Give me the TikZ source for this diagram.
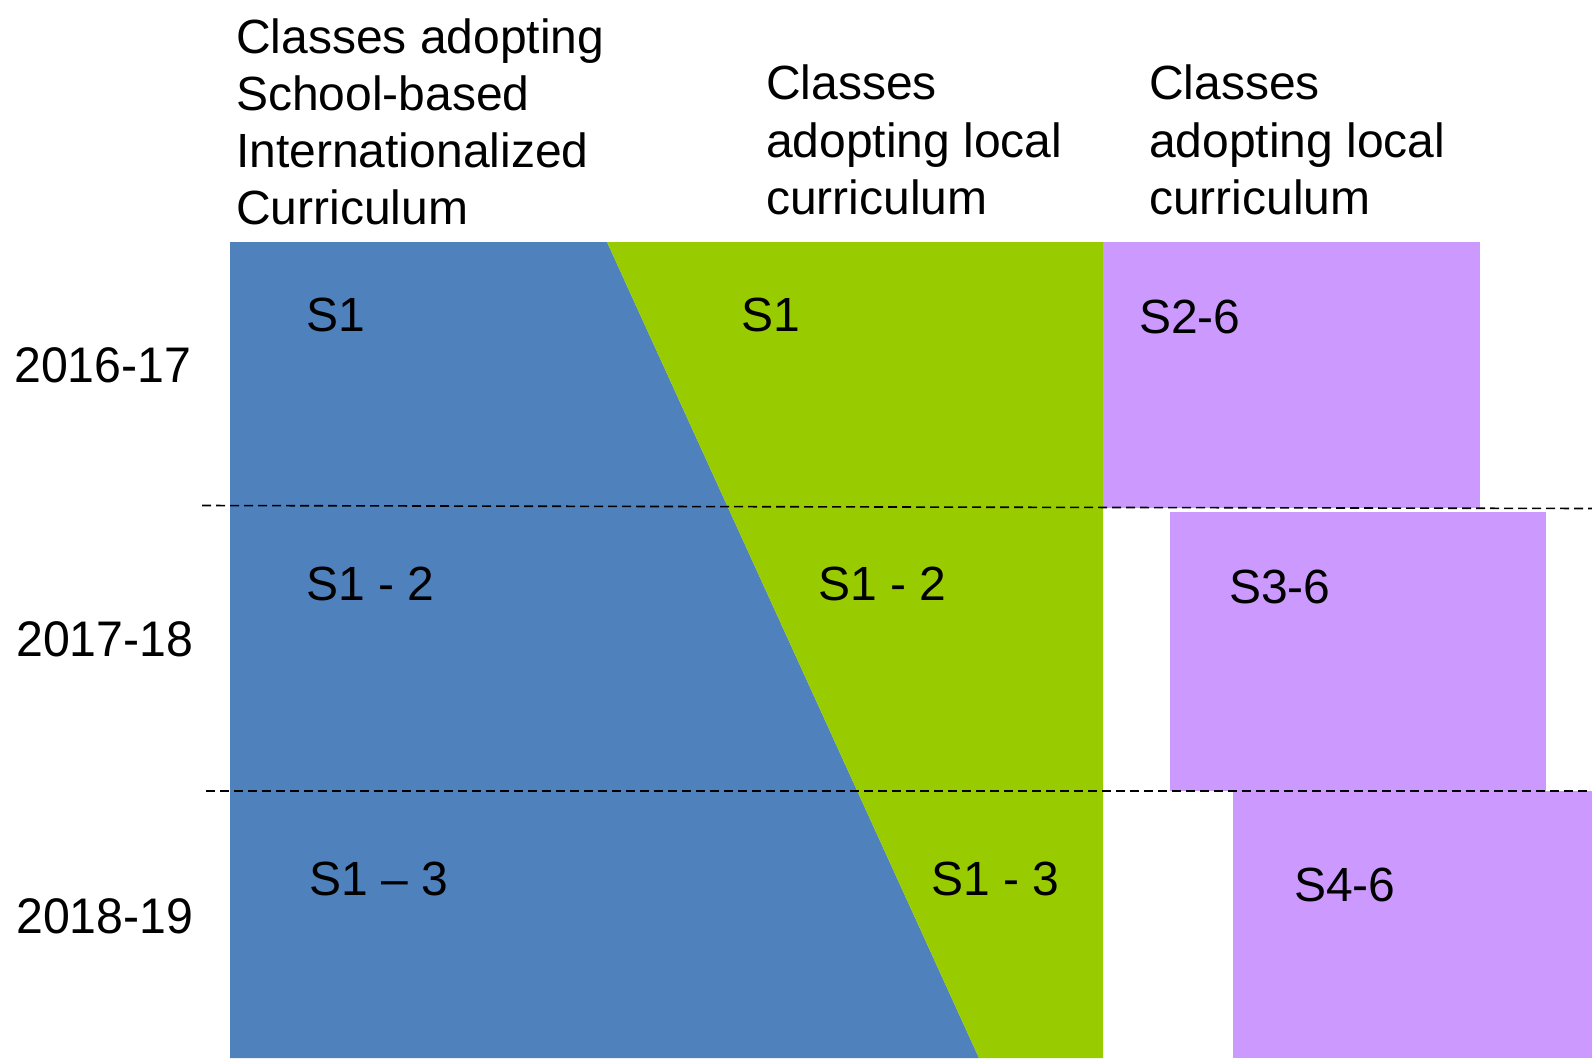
\documentclass[tikz,border=0pt]{standalone}
\usepackage{fontspec}
\setmainfont{Liberation Sans}
\newfontfamily\yearfont{Liberation Sans}[FakeStretch=0.965]
\definecolor{blueC}{HTML}{4F81BD}
\definecolor{greenC}{HTML}{99CC00}
\definecolor{purpC}{HTML}{CC99FF}
\begin{document}
\begin{tikzpicture}[x=1pt,y=-1pt,
  hdr/.style={anchor=base west, inner sep=0pt, font=\fontsize{48}{57}\selectfont},
  yr/.style={anchor=base west, inner sep=0pt, font=\yearfont\fontsize{50}{60}\selectfont},
  cell/.style={anchor=base west, inner sep=0pt, font=\fontsize{48}{57}\selectfont},
  sepline/.style={dash pattern=on 9pt off 5pt, line width=1.6pt}]
\useasboundingbox (0,0) rectangle (1592,1058);
% areas
\fill[blueC] (230,242) -- (607,242) -- (979,1058) -- (230,1058) -- cycle;
\fill[greenC] (607,242) -- (1103,242) -- (1103,1058) -- (979,1058) -- cycle;
\fill[purpC] (1103,242) rectangle (1480,508);
\fill[purpC] (1170,512) rectangle (1546,791);
\fill[purpC] (1233,791) rectangle (1592,1058);
% dashed separators
\coordinate (d1a) at (202,505.5);
\coordinate (d1b) at (1592,508.5);
\coordinate (d2a) at (206,791);
\coordinate (d2b) at (1592,791);
\draw[sepline] (d1a) -- (d1b);
\draw[sepline] (d2a) -- (d2b);
% headers
\node[hdr] (h1a) at (236,53) {Classes adopting};
\node[hdr] (h1b) at (236,110) {School-based};
\node[hdr] (h1c) at (236,167) {Internationalized};
\node[hdr] (h1d) at (236,224) {Curriculum};
\node[hdr] (h2a) at (766,99.5) {Classes};
\node[hdr] (h2b) at (766,157) {adopting local};
\node[hdr] (h2c) at (766,214) {curriculum};
\node[hdr] (h3a) at (1149,99.5) {Classes};
\node[hdr] (h3b) at (1149,157) {adopting local};
\node[hdr] (h3c) at (1149,214) {curriculum};
% years
\node[yr] (y1) at (14,382.5) {2016-17};
\node[yr] (y2) at (16,656.5) {2017-18};
\node[yr] (y3) at (16,933.5) {2018-19};
% cells
\node[cell] (b1) at (306,331) {S1};
\node[cell] (g1) at (741,331) {S1};
\node[cell] (p1) at (1139,333) {S2-6};
\node[cell] (b2) at (306,600) {S1 - 2};
\node[cell] (g2) at (818,600) {S1 - 2};
\node[cell] (p2) at (1229,603) {S3-6};
\node[cell] (b3) at (309,895) {S1 – 3};
\node[cell] (g3) at (931,895.5) {S1 - 3};
\node[cell] (p3) at (1294,901.5) {S4-6};
\end{tikzpicture}
\end{document}
